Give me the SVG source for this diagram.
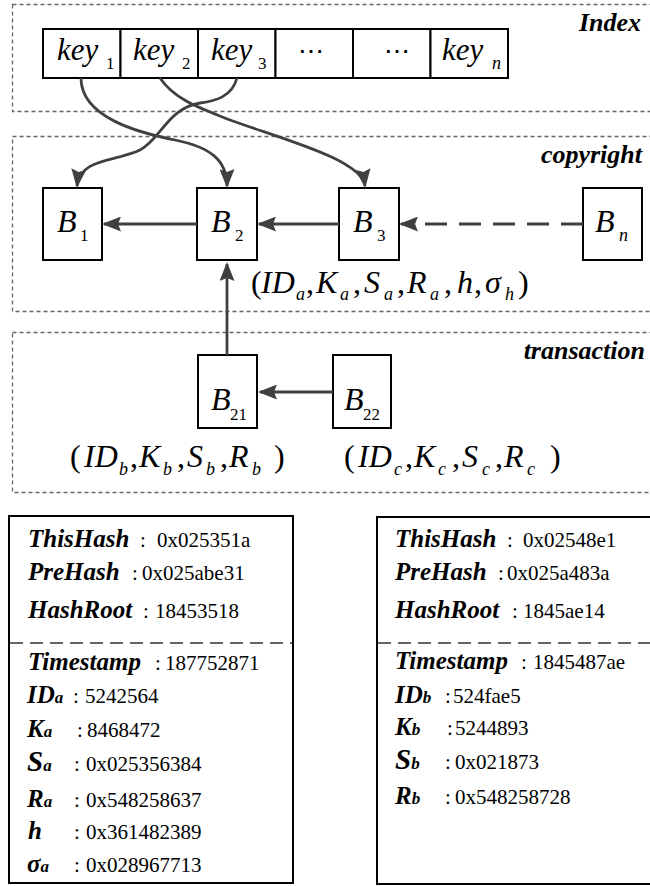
<svg xmlns="http://www.w3.org/2000/svg" width="650" height="886" viewBox="0 0 650 886">
<style>
text{font-family:"Liberation Serif","Times New Roman",serif;fill:#000}
.panel{fill:none;stroke:#666;stroke-width:1.3;stroke-dasharray:4 3}
.box{fill:#fff;stroke:#000;stroke-width:2}
.conn{fill:none;stroke:#404040;stroke-width:2.8}
.dash{stroke-dasharray:22 12}
.sep{stroke:#666;stroke-width:2;stroke-dasharray:13 7}
.ttl{font-size:26px;font-weight:bold;font-style:italic;text-anchor:end}
.key{font-size:31px;font-style:italic}
.bl{font-size:32px;font-style:italic}
.sub{font-size:17px;font-style:normal}
.isub{font-size:18px;font-style:italic}
.up{font-style:normal}
.dots{font-family:"DejaVu Serif",serif;font-size:26px;text-anchor:middle}
.lbl{font-size:25px;font-weight:bold;font-style:italic}
.lsub{font-size:17px}
.val{font-size:21px}
</style>
<defs>
<marker id="arr" viewBox="0 0 19 15" refX="17" refY="7.5" markerWidth="19" markerHeight="15" markerUnits="userSpaceOnUse" orient="auto">
<path d="M0,0 L19,7.5 L0,15 L3,7.5 z" fill="#404040" stroke="none"/>
</marker>
</defs>

<g id="panels">
<rect class="panel" x="12.5" y="4.5" width="700" height="107"/>
<rect class="panel" x="12.5" y="136.5" width="700" height="175"/>
<rect class="panel" x="12.5" y="332.5" width="700" height="160"/>
<text class="ttl" x="641" y="31">Index</text>
<text class="ttl" x="642" y="163">copyright</text>
<text class="ttl" x="645" y="359">transaction</text>
</g>

<g id="index">
<g id="key1"><rect class="box" x="43" y="29" width="77.5" height="49"/><text class="key" x="57" y="60">key</text><text class="sub" x="106" y="69">1</text></g>
<g id="key2"><rect class="box" x="120.5" y="29" width="77.5" height="49"/><text class="key" x="133" y="60">key</text><text class="sub" x="182" y="69">2</text></g>
<g id="key3"><rect class="box" x="198" y="29" width="77.5" height="49"/><text class="key" x="211" y="60">key</text><text class="sub" x="258" y="69">3</text></g>
<g id="dots1"><rect class="box" x="275.5" y="29" width="77.5" height="49"/><text class="dots" x="311" y="60">⋯</text></g>
<g id="dots2"><rect class="box" x="353" y="29" width="77.5" height="49"/><text class="dots" x="397" y="60">⋯</text></g>
<g id="keyn"><rect class="box" x="430.5" y="29" width="77.5" height="49"/><text class="key" x="442" y="60">key</text><text class="isub" x="492" y="69">n</text></g>
</g>

<g id="B1"><rect class="box" x="43" y="188" width="59" height="72"/><text class="bl" x="57" y="232">B</text><text class="sub" x="80" y="241">1</text></g>
<g id="B2"><rect class="box" x="197" y="188" width="60" height="72"/><text class="bl" x="211" y="232">B</text><text class="sub" x="235" y="241">2</text></g>
<g id="B3"><rect class="box" x="339" y="188" width="60" height="72"/><text class="bl" x="353" y="232">B</text><text class="sub" x="377" y="241">3</text></g>
<g id="Bn"><rect class="box" x="583" y="188" width="59" height="72"/><text class="bl" x="595" y="232">B</text><text class="isub" x="619" y="241">n</text></g>
<g id="B21"><rect class="box" x="198" y="355" width="59" height="73"/><text class="bl" x="211" y="410">B</text><text class="sub" x="230" y="420">21</text></g>
<g id="B22"><rect class="box" x="333" y="355" width="58" height="73"/><text class="bl" x="344" y="410">B</text><text class="sub" x="363" y="420">22</text></g>

<g id="labels">
<text class="bl"><tspan class="up" x="251" y="293">(</tspan><tspan x="261" y="293">ID</tspan><tspan class="isub" x="296" y="300">a</tspan><tspan class="up" x="306" y="293">,</tspan><tspan x="316" y="293">K</tspan><tspan class="isub" x="340" y="300">a</tspan><tspan class="up" x="353" y="293">,</tspan><tspan x="364" y="293">S</tspan><tspan class="isub" x="384" y="300">a</tspan><tspan class="up" x="397" y="293">,</tspan><tspan x="407" y="293">R</tspan><tspan class="isub" x="430" y="300">a</tspan><tspan class="up" x="444" y="293">,</tspan><tspan x="457" y="293">h</tspan><tspan class="up" x="474" y="293">,</tspan><tspan x="485" y="293">σ</tspan><tspan class="isub" x="505" y="300">h</tspan><tspan class="up" x="518" y="293">)</tspan></text>
<text class="bl"><tspan class="up" x="70" y="467">(</tspan><tspan x="84" y="467">ID</tspan><tspan class="isub" x="119" y="475">b</tspan><tspan class="up" x="130" y="467">,</tspan><tspan x="139" y="467">K</tspan><tspan class="isub" x="163" y="475">b</tspan><tspan class="up" x="177" y="467">,</tspan><tspan x="187" y="467">S</tspan><tspan class="isub" x="206" y="475">b</tspan><tspan class="up" x="220" y="467">,</tspan><tspan x="229" y="467">R</tspan><tspan class="isub" x="252" y="475">b</tspan><tspan class="up" x="274" y="467">)</tspan></text>
<text class="bl"><tspan class="up" x="344" y="467">(</tspan><tspan x="358" y="467">ID</tspan><tspan class="isub" x="394" y="475">c</tspan><tspan class="up" x="405" y="467">,</tspan><tspan x="414" y="467">K</tspan><tspan class="isub" x="438" y="475">c</tspan><tspan class="up" x="452" y="467">,</tspan><tspan x="462" y="467">S</tspan><tspan class="isub" x="482" y="475">c</tspan><tspan class="up" x="495" y="467">,</tspan><tspan x="504" y="467">R</tspan><tspan class="isub" x="527" y="475">c</tspan><tspan class="up" x="550" y="467">)</tspan></text>
</g>

<g id="connectors">
<path class="conn" marker-end="url(#arr)" d="M81,78 C81,118 140,133 175,140 C210,147 227,160 227,186"/>
<path class="conn" marker-end="url(#arr)" d="M160,78 C175,100 200,108 230,120 C285,140 362,160 365,186"/>
<path class="conn" marker-end="url(#arr)" d="M237,78 C232,97 215,101 200,103 C168,108 160,140 140,150 C115,162 80,158 77,186"/>
<path class="conn" marker-end="url(#arr)" d="M197,224 L104,224"/>
<path class="conn" marker-end="url(#arr)" d="M339,224 L259,224"/>
<path class="conn dash" marker-end="url(#arr)" d="M583,224 L401,224"/>
<path class="conn" marker-end="url(#arr)" d="M227,355 L227,264"/>
<path class="conn" marker-end="url(#arr)" d="M333,392 L260,392"/>
</g>

<g id="blockA">
<rect class="box" x="9" y="516" width="284" height="367"/>
<line class="sep" x1="10" y1="643" x2="292" y2="643"/>
<text class="lbl" x="28" y="547">ThisHash</text>
<text class="lbl" x="28" y="580">PreHash</text>
<text class="lbl" x="28" y="618">HashRoot</text>
<text class="lbl" x="28" y="670">Timestamp</text>
<text class="lbl" x="27" y="703">ID<tspan class="lsub">a</tspan></text>
<text class="lbl" x="27" y="737">K<tspan class="lsub">a</tspan></text>
<text class="lbl" x="27" y="771"><tspan font-size="29">S</tspan><tspan class="lsub">a</tspan></text>
<text class="lbl" x="27" y="807">R<tspan class="lsub">a</tspan></text>
<text class="lbl" x="28" y="839">h</text>
<text class="lbl" x="27" y="872">σ<tspan class="lsub">a</tspan></text>
<text class="val" x="140" y="547">:</text><text class="val" x="157" y="547">0x025351a</text>
<text class="val" x="132" y="580">:</text><text class="val" x="142" y="580">0x025abe31</text>
<text class="val" x="143" y="618">:</text><text class="val" x="155" y="618">18453518</text>
<text class="val" x="155" y="670">:</text><text class="val" x="165" y="670">187752871</text>
<text class="val" x="73" y="703">:</text><text class="val" x="85" y="703">5242564</text>
<text class="val" x="77" y="737">:</text><text class="val" x="87" y="737">8468472</text>
<text class="val" x="74" y="771">:</text><text class="val" x="86" y="771">0x025356384</text>
<text class="val" x="74" y="807">:</text><text class="val" x="86" y="807">0x548258637</text>
<text class="val" x="74" y="839">:</text><text class="val" x="86" y="839">0x361482389</text>
<text class="val" x="74" y="872">:</text><text class="val" x="86" y="872">0x028967713</text>
</g>

<g id="blockB">
<rect class="box" x="377" y="517" width="300" height="367"/>
<line class="sep" x1="378" y1="643" x2="650" y2="643"/>
<text class="lbl" x="395" y="547">ThisHash</text>
<text class="lbl" x="395" y="580">PreHash</text>
<text class="lbl" x="395" y="618">HashRoot</text>
<text class="lbl" x="395" y="669">Timestamp</text>
<text class="lbl" x="395" y="703">ID<tspan class="lsub">b</tspan></text>
<text class="lbl" x="395" y="735">K<tspan class="lsub">b</tspan></text>
<text class="lbl" x="395" y="769"><tspan font-size="29">S</tspan><tspan class="lsub">b</tspan></text>
<text class="lbl" x="395" y="804">R<tspan class="lsub">b</tspan></text>
<text class="val" x="507" y="547">:</text><text class="val" x="523" y="547">0x02548e1</text>
<text class="val" x="498" y="580">:</text><text class="val" x="507" y="580">0x025a483a</text>
<text class="val" x="512" y="618">:</text><text class="val" x="523" y="618">1845ae14</text>
<text class="val" x="521" y="669">:</text><text class="val" x="533" y="669">1845487ae</text>
<text class="val" x="445" y="703">:</text><text class="val" x="453" y="703">524fae5</text>
<text class="val" x="447" y="735">:</text><text class="val" x="455" y="735">5244893</text>
<text class="val" x="445" y="769">:</text><text class="val" x="455" y="769">0x021873</text>
<text class="val" x="445" y="804">:</text><text class="val" x="455" y="804">0x548258728</text>
</g>
</svg>
